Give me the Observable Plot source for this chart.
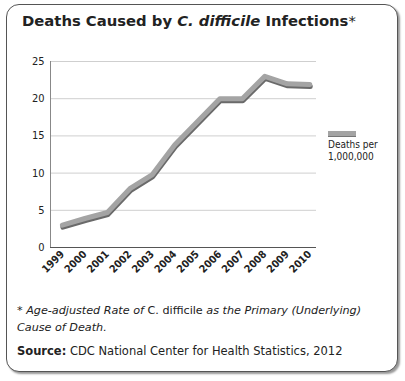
<!DOCTYPE html>
<html><head><meta charset="utf-8">
<script src="https://cdn.jsdelivr.net/npm/d3@7"></script>
<script src="https://cdn.jsdelivr.net/npm/@observablehq/plot@0.6"></script>
<style>
body{margin:0;background:#fff;width:405px;height:381px;position:relative;overflow:hidden;font-family:"DejaVu Sans",Verdana,sans-serif;}
#card{position:absolute;left:6px;top:4px;width:390px;height:366px;border:1px solid #555;border-radius:13px;box-shadow:2px 2px 2px #999;background:#fff;}
#title{position:absolute;left:22px;top:12px;font-weight:bold;font-size:14.8px;color:#222;white-space:nowrap;}
#title .star{font-weight:normal;}
#chart{position:absolute;left:0;top:50px;}
#note{position:absolute;left:17px;top:302px;font-size:11.2px;line-height:17px;color:#222;font-style:italic;}
#note .r{font-style:normal;}
#src{position:absolute;left:17px;top:344px;font-size:11.5px;color:#222;}
#legline{position:absolute;left:328px;top:131px;width:28px;height:5px;background:#a4a4a4;border-bottom:1px solid #777;}
#legtext{position:absolute;left:328px;top:139px;font-family:'DejaVu Sans Condensed','DejaVu Sans',sans-serif;font-stretch:condensed;font-size:10px;line-height:12px;color:#222;white-space:nowrap;}
</style></head>
<body>
<div id="card"></div>
<div id="title">Deaths Caused by <i>C. difficile</i> Infections<span class="star">*</span></div>
<div id="chart"></div>
<div id="legline"></div>
<div id="legtext"></div>
<div id="note">* Age-adjusted Rate of <span class="r">C. difficile</span> as the Primary (Underlying)<br>Cause of Death.</div>
<div id="src"><b>Source:</b> CDC National Center for Health Statistics, 2012</div>
<script>
const years = [1999,2000,2001,2002,2003,2004,2005,2006,2007,2008,2009,2010];
const deaths = [3.0,3.9,4.7,7.9,9.8,13.8,16.9,20.0,20.0,23.0,22.0,21.9];
const yTicks = [0,5,10,15,20,25];
const legendLabel = ["Deaths per","1,000,000"];
const xDomain = [1998.47, 2010.3];
const data = years.map((y,i)=>({year:y, value:deaths[i]}));
document.getElementById("legtext").innerHTML = legendLabel.join("<br>");
const condensed = "'Liberation Sans Narrow','DejaVu Sans Condensed',sans-serif";
const chart = Plot.plot({
  width:405, height:240,
  marginLeft:50, marginRight:89, marginTop:11, marginBottom:43,
  style:{fontFamily:condensed, fontSize:"10px", color:"#222"},
  x:{domain:xDomain},
  y:{domain:[0,25]},
  marks:[
    Plot.gridY(yTicks,{stroke:"#cfcfcf", strokeOpacity:1}),
    Plot.axisY(yTicks,{tickSize:0, tickPadding:6, label:null, fontSize:11}),
    Plot.axisX(years,{tickSize:0, tickRotate:-45, tickPadding:5, label:null, tickFormat:d=>String(d), fontWeight:"bold", fontSize:10.5}),
    Plot.ruleX([xDomain[0]],{stroke:"#888"}),
    Plot.line(data,{x:"year", y:"value", stroke:"#6a6a6a", strokeWidth:5, dx:0.5, dy:2}),
    Plot.line(data,{x:"year", y:"value", stroke:"#a4a4a4", strokeWidth:5}),
    Plot.ruleY([0],{stroke:"#555"}),
  ]
});
document.getElementById("chart").appendChild(chart);
</script>
</body></html>
